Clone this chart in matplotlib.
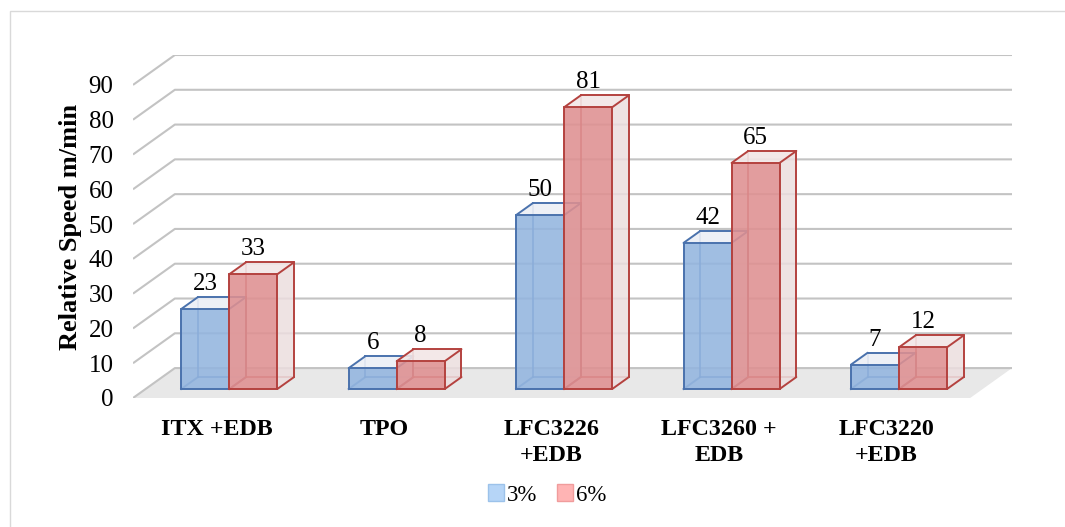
import matplotlib
matplotlib.use("Agg")
import matplotlib.pyplot as plt
from matplotlib.patches import Polygon, Patch, Rectangle

# ---- data -------------------------------------------------------------
categories = ["ITX +EDB", "TPO", "LFC3226\n+EDB", "LFC3260 +\nEDB", "LFC3220\n+EDB"]
series_names = ["3%", "6%"]
speed_3pct = [23, 6, 50, 42, 7]
speed_6pct = [33, 8, 81, 65, 12]
y_ticks = [0, 10, 20, 30, 40, 50, 60, 70, 80, 90]

# ---- styling ----------------------------------------------------------
plt.rcParams['font.family'] = ['Liberation Serif', 'DejaVu Serif']

W, H, DPI = 1065, 527, 100
fig = plt.figure(figsize=(W / DPI, H / DPI), dpi=DPI)

# plot box (floor front-left to back-wall top-right), in pixels
left_px, right_px, bottom_px, top_px = 133, 1012, 398, 55
ax = fig.add_axes([left_px / W, 1 - bottom_px / H,
                   (right_px - left_px) / W, (bottom_px - top_px) / H])

n = len(categories)
ymax = y_ticks[-1]
DX = 0.25          # oblique depth offset, category units
DY = 8.6           # oblique depth offset, value units
ax.set_xlim(-0.5, n - 0.5 + DX)
ax.set_ylim(0, ymax + DY)

for s in ax.spines.values():
    s.set_visible(False)
ax.set_facecolor('none')

grid_c = '#c3c3c3'
# floor
floor = Polygon([(-0.5, 0), (n - 0.5, 0), (n - 0.5 + DX, DY), (-0.5 + DX, DY)],
                closed=True, facecolor='#e8e8e8', edgecolor='none', zorder=0)
ax.add_patch(floor)
# gridlines: short diagonal on the side, then across the back wall
for v in y_ticks:
    ax.plot([-0.5, -0.5 + DX, n - 0.5 + DX], [v, v + DY, v + DY],
            color=grid_c, lw=1.5, zorder=1, solid_capstyle='butt')

BAR_W = 0.287
D0, D1 = 0.3, 0.7


def P(x, y, d):
    return (x + d * DX, y + d * DY)


def draw_box(x0, x1, v, face, side, top, edge, z):
    fbl, fbr, ftr, ftl = P(x0, 0, D0), P(x1, 0, D0), P(x1, v, D0), P(x0, v, D0)
    bbl, bbr, btr, btl = P(x0, 0, D1), P(x1, 0, D1), P(x1, v, D1), P(x0, v, D1)
    lw = 1.4
    # hidden edges, seen through the translucent faces
    for a, b in [(bbl, bbr), (bbl, btl), (fbl, bbl)]:
        ax.plot([a[0], b[0]], [a[1], b[1]], color=edge, lw=lw, alpha=0.8, zorder=z)
    ax.add_patch(Polygon([fbr, bbr, btr, ftr], closed=True, facecolor=side,
                         edgecolor='none', alpha=0.85, zorder=z + 0.1))
    ax.add_patch(Polygon([ftl, ftr, btr, btl], closed=True, facecolor=top,
                         edgecolor='none', alpha=0.9, zorder=z + 0.1))
    ax.add_patch(Polygon([fbl, fbr, ftr, ftl], closed=True, facecolor=face,
                         edgecolor='none', alpha=0.88, zorder=z + 0.2))
    for a, b in [(fbl, fbr), (fbr, ftr), (ftr, ftl), (ftl, fbl),
                 (ftl, btl), (btl, btr), (btr, ftr), (fbr, bbr), (bbr, btr)]:
        ax.plot([a[0], b[0]], [a[1], b[1]], color=edge, lw=lw, zorder=z + 0.3,
                solid_capstyle='round')
    return P((x0 + x1) / 2, v, D0)[0], v + D1 * DY


blue = dict(face='#93b5df', side='#e3e9f3', top='#eceff6', edge='#4a72ad')
red = dict(face='#df9091', side='#ecdedf', top='#f2e6e6', edge='#b4423f')

z = 2
for i in range(n):
    for vals, sty, x0 in [(speed_3pct, blue, i - BAR_W), (speed_6pct, red, i)]:
        v = vals[i]
        lx, ly = draw_box(x0, x0 + BAR_W, v, sty['face'], sty['side'],
                          sty['top'], sty['edge'], z)
        ax.text(lx, ly + 0.6, f"{v}", ha='center', va='bottom',
                fontsize=18, color='black', zorder=50)
        z += 1

ax.set_yticks(y_ticks)
ax.set_yticklabels([str(t) for t in y_ticks], fontsize=18)
ax.tick_params(axis='y', length=0, pad=14)
ax.set_xticks(range(n))
ax.set_xticklabels(categories, fontsize=17.3, fontweight='bold', linespacing=1.3)
ax.tick_params(axis='x', length=0, pad=15)
ax.set_ylabel("Relative Speed m/min", fontsize=19, fontweight='bold', labelpad=5)

handles = [Patch(facecolor='#b6d5f7', edgecolor='#9cc2ea', label=series_names[0]),
           Patch(facecolor='#ffb4b4', edgecolor='#f09c9c', label=series_names[1])]
fig.legend(handles=handles, loc='center', bbox_to_anchor=(547 / W, 1 - 495 / H),
           ncol=2, frameon=False, fontsize=16.5, handlelength=0.7, handleheight=0.7,
           handletextpad=0.12, columnspacing=0.85)

# chart area border
fig.patches.append(Rectangle((10 / W, -0.05), (1070 - 10) / W, 1.05 - 11 / H,
                             transform=fig.transFigure, fill=False,
                             edgecolor='#d9d9d9', lw=1.0))

fig.savefig("out.png", dpi=DPI)
